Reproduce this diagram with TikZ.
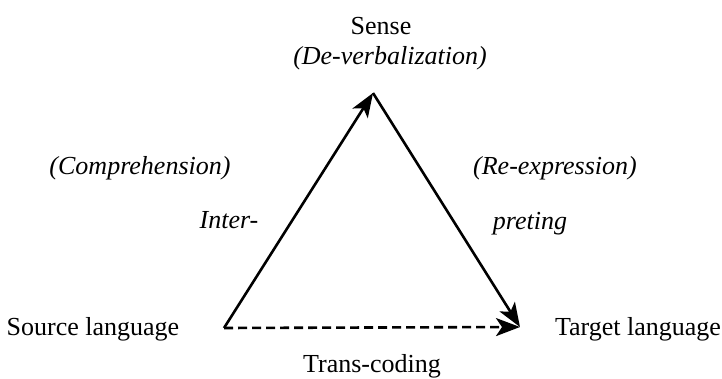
\documentclass[tikz,border=0pt]{standalone}
\usepackage{fontspec}
\setmainfont{Liberation Serif}
\usetikzlibrary{arrows.meta,positioning}

\begin{document}
\begin{tikzpicture}[x=0.5pt,y=-0.5pt,
    lbl/.style={font=\fontsize{13}{15}\selectfont, inner sep=0pt},
    ilbl/.style={font=\fontsize{13}{15}\selectfont\itshape, inner sep=0pt},
    side/.style={line width=1.3pt, -{Stealth[length=12pt,width=9pt,inset=3pt]}}]
    \useasboundingbox (0,0) rectangle (722,379);

    \coordinate (src) at (224,328);
    \coordinate (top) at (373,93);
    \coordinate (tgt) at (520,327);

    \node[lbl] (sense) at (381,26) {Sense};
    \node[ilbl] (deverb) at (390,58) {(De-verbalization)};
    \node[ilbl] (compr) at (140,168) {(Comprehension)};
    \node[ilbl] (reexpr) at (555,168) {(Re-expression)};
    \node[ilbl] (inter) at (229,220) {Inter-};
    \node[ilbl] (preting) at (530,224) {preting};
    \node[lbl] (srclang) at (93,329) {Source language};
    \node[lbl] (tgtlang) at (638,329) {Target language};
    \node[lbl] (transc) at (372,366) {Trans-coding};

    \draw[side] (src) -- (top);
    \draw[side] (top) -- (tgt);
    \draw[side, dash pattern=on 4.5pt off 2.5pt] (src) -- (tgt);
  \end{tikzpicture}
\end{document}
